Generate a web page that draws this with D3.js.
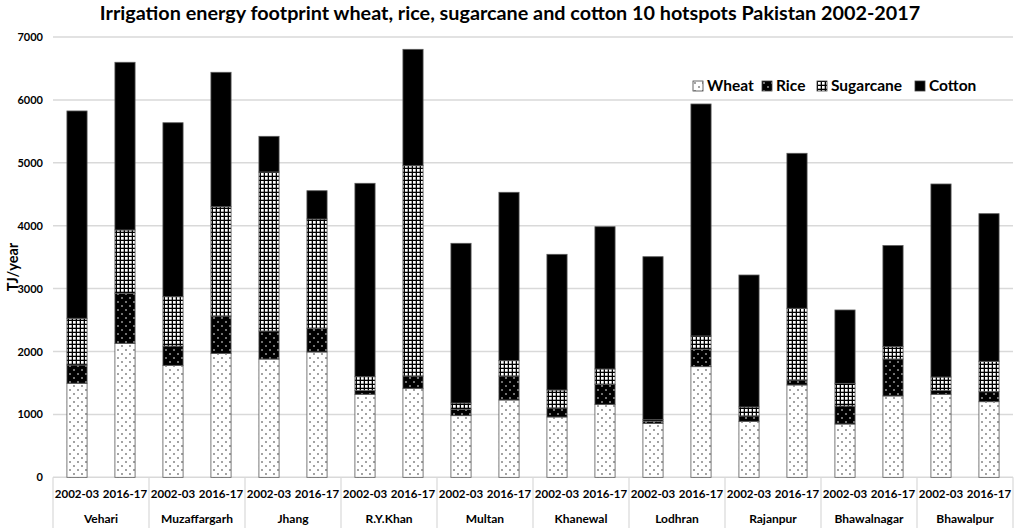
<!DOCTYPE html>
<html>
<head>
<meta charset="utf-8">
<script src="https://cdn.jsdelivr.net/npm/d3@7"></script>
<style>
  body { margin: 0; background: #fff; }
  svg { display: block; font-family: Lato, "Open Sans", sans-serif; }
</style>
</head>
<body>
<div id="chart"></div>
<script>
// district names, each has two survey years
var districts = ["Vehari", "Muzaffargarh", "Jhang", "R.Y.Khan", "Multan", "Khanewal", "Lodhran", "Rajanpur", "Bhawalnagar", "Bhawalpur"]
var years = ["2002-03", "2016-17"]

// TJ/year, order: district x year
var wheat     = [1495, 2130, 1780, 1971, 1880, 1992, 1320, 1415, 980, 1229, 959, 1160, 858, 1759, 890, 1468, 847, 1293, 1320, 1202]
var rice      = [290, 795, 307, 593, 446, 377, 63, 195, 101, 381, 143, 318, 32, 276, 85, 79, 287, 588, 63, 159]
var sugarcane = [743, 1007, 784, 1738, 2528, 1737, 216, 3344, 100, 244, 286, 244, 26, 212, 143, 1140, 360, 196, 211, 483]
var cotton    = [3296, 2666, 2766, 2137, 567, 450, 3075, 1850, 2539, 2677, 2157, 2262, 2591, 3688, 2098, 2464, 1166, 1607, 3069, 2347]

var crops = ["Wheat", "Rice", "Sugarcane", "Cotton"]
var yTicks = [0, 1000, 2000, 3000, 4000, 5000, 6000, 7000]

var width = 1021, height = 529
var margin = {top: 37, right: 8, bottom: 52, left: 53}

var rows = []
districts.forEach((d, i) => {
	years.forEach((yr, j) => {
		var k = i * 2 + j
		rows.push({key: d + "|" + yr, district: d, year: yr, Wheat: wheat[k], Rice: rice[k], Sugarcane: sugarcane[k], Cotton: cotton[k]})
	})
})

var svg = d3.select("#chart").append("svg")
	.attr("width", width)
	.attr("height", height)

var defs = svg.append("defs")

// wheat: white with black dots
var pw = defs.append("pattern").attr("id", "pWheat").attr("patternUnits", "userSpaceOnUse")
	.attr("width", 8).attr("height", 8)
pw.append("rect").attr("width", 8).attr("height", 8).attr("fill", "#fff")
pw.append("circle").attr("cx", 2).attr("cy", 2).attr("r", 0.7).attr("fill", "#000")
pw.append("circle").attr("cx", 6).attr("cy", 6).attr("r", 0.7).attr("fill", "#000")

// rice: black with white dots
var pr = defs.append("pattern").attr("id", "pRice").attr("patternUnits", "userSpaceOnUse")
	.attr("width", 8).attr("height", 8)
pr.append("rect").attr("width", 8).attr("height", 8).attr("fill", "#000")
pr.append("circle").attr("cx", 2).attr("cy", 2).attr("r", 0.8).attr("fill", "#fff")
pr.append("circle").attr("cx", 6).attr("cy", 6).attr("r", 0.8).attr("fill", "#fff")

// sugarcane: small grid
var ps = defs.append("pattern").attr("id", "pSugarcane").attr("patternUnits", "userSpaceOnUse")
	.attr("width", 4).attr("height", 4)
ps.append("rect").attr("width", 4).attr("height", 4).attr("fill", "#000")
ps.append("rect").attr("x", 1).attr("y", 1).attr("width", 2.7).attr("height", 2.7).attr("fill", "#fff")

var fills = {Wheat: "url(#pWheat)", Rice: "url(#pRice)", Sugarcane: "url(#pSugarcane)", Cotton: "#000"}

var x = d3.scaleBand()
	.domain(rows.map(d => d.key))
	.range([margin.left, width - margin.right])
	.paddingInner(0.58)
	.paddingOuter(0.29)

var y = d3.scaleLinear()
	.domain([0, 7000])
	.range([height - margin.bottom + 0.3, margin.top])

// gridlines
svg.append("g")
	.selectAll("line")
	.data(yTicks)
	.join("line")
	.attr("x1", margin.left)
	.attr("x2", width - margin.right)
	.attr("y1", d => y(d))
	.attr("y2", d => y(d))
	.attr("stroke", "#d9d9d9")
	.attr("stroke-width", 1.5)

// y axis labels
var yAxis = d3.axisLeft(y).tickValues(yTicks).tickFormat(d3.format("d")).tickSize(0).tickPadding(10)
svg.append("g")
	.attr("transform", `translate(${margin.left},0)`)
	.call(yAxis)
	.call(g => g.select(".domain").remove())
	.call(g => g.selectAll("text")
		.attr("font-family", "Lato, sans-serif")
		.attr("font-size", 11)
		.attr("font-weight", "bold")
		.attr("fill", "#000"))

svg.append("text")
	.attr("transform", "translate(18,267) rotate(-90)")
	.attr("text-anchor", "middle")
	.attr("font-size", 14.5)
	.attr("font-weight", "bold")
	.text("TJ/year")

// stacked bars
var stack = d3.stack().keys(crops)
var series = stack(rows)

svg.append("g")
	.selectAll("g")
	.data(series)
	.join("g")
	.attr("fill", d => fills[d.key])
	.selectAll("rect")
	.data(d => d)
	.join("rect")
	.attr("x", d => x(d.data.key))
	.attr("width", x.bandwidth())
	.attr("y", d => y(d[1]))
	.attr("height", d => y(d[0]) - y(d[1]))
	.attr("stroke", "#595959")
	.attr("stroke-width", 0.8)

// x axis: year labels, district labels, group separators
var axisY = y(0)
var step = x.step()

svg.append("g")
	.selectAll("text")
	.data(rows)
	.join("text")
	.attr("x", d => x(d.key) + x.bandwidth() / 2)
	.attr("y", axisY + 21)
	.attr("text-anchor", "middle")
	.attr("font-size", 11.5)
	.attr("font-weight", "bold")
	.text(d => d.year)

svg.append("g")
	.selectAll("text")
	.data(districts)
	.join("text")
	.attr("x", (d, i) => margin.left + step * (i * 2 + 1))
	.attr("y", axisY + 46)
	.attr("text-anchor", "middle")
	.attr("font-size", 12)
	.attr("font-weight", "bold")
	.text(d => d)

svg.append("g")
	.selectAll("line")
	.data(d3.range(districts.length + 1))
	.join("line")
	.attr("x1", i => margin.left + step * 2 * i)
	.attr("x2", i => margin.left + step * 2 * i)
	.attr("y1", axisY)
	.attr("y2", height - 1)
	.attr("stroke", "#d9d9d9")
	.attr("stroke-width", 1.2)

// title
svg.append("text")
	.attr("x", 510)
	.attr("y", 20)
	.attr("text-anchor", "middle")
	.attr("font-size", 19.8)
	.attr("font-weight", "bold")
	.text("Irrigation energy footprint wheat, rice, sugarcane and cotton 10 hotspots Pakistan 2002-2017")

// legend
var legendX = [693, 762, 817, 915]
var legend = svg.append("g")
	.selectAll("g")
	.data(crops)
	.join("g")
	.attr("transform", (d, i) => `translate(${legendX[i]},81)`)

legend.append("rect")
	.attr("width", 10)
	.attr("height", 10)
	.attr("fill", d => fills[d])
	.attr("stroke", "#404040")
	.attr("stroke-width", 0.8)

legend.append("text")
	.attr("x", 14)
	.attr("y", 10)
	.attr("font-size", 15.5)
	.attr("font-weight", "bold")
	.text(d => d)
</script>
</body>
</html>
